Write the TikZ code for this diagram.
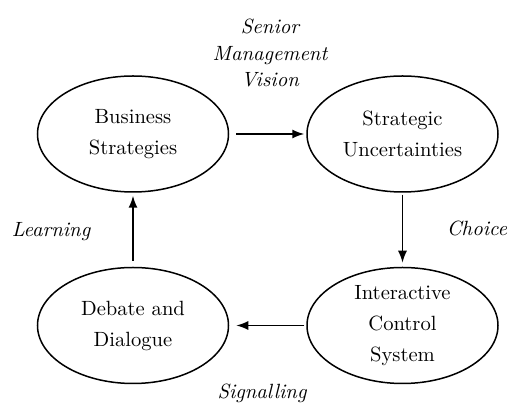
\documentclass[tikz,border=0pt]{standalone}
\usetikzlibrary{shapes.geometric,arrows.meta}
\begin{document}
\begin{tikzpicture}[x=0.5pt,y=0.5pt,
  blob/.style={draw,ellipse,line width=0.75pt,minimum width=95.5pt,minimum height=58pt,inner sep=0pt,align=center,font=\fontsize{10.3}{15.5}\selectfont},
  tag/.style={align=center,font=\fontsize{10.3}{13.25}\selectfont\itshape},
  flow/.style={-{Latex[length=6pt,width=4.5pt]},line width=0.75pt}]
\useasboundingbox (0,0) rectangle (509,406);

\node[blob] (bs) at (133,272) {Business\\Strategies};
\node[blob] (su) at (402.5,272) {Strategic\\Uncertainties};
\node[blob] (dd) at (133,80.5) {Debate and\\Dialogue};
\node[blob] (ics) at (402.5,80.5) {Interactive\\Control\\System};

\node[tag] (vision) at (270,353) {Senior\\Management\\Vision};
\node[tag] (learn) at (51,174) {Learning};
\node[tag] (choice) at (477,178) {Choice};
\node[tag] (signal) at (262,13) {Signalling};

\draw[flow,shorten <=3.5pt,shorten >=1pt] (bs) -- (su);
\draw[flow,shorten <=1pt,shorten >=2pt] (su) -- (ics);
\draw[flow,shorten <=1pt,shorten >=3.5pt] (ics) -- (dd);
\draw[flow,shorten <=3pt,shorten >=1.5pt] (dd) -- (bs);
\end{tikzpicture}
\end{document}
